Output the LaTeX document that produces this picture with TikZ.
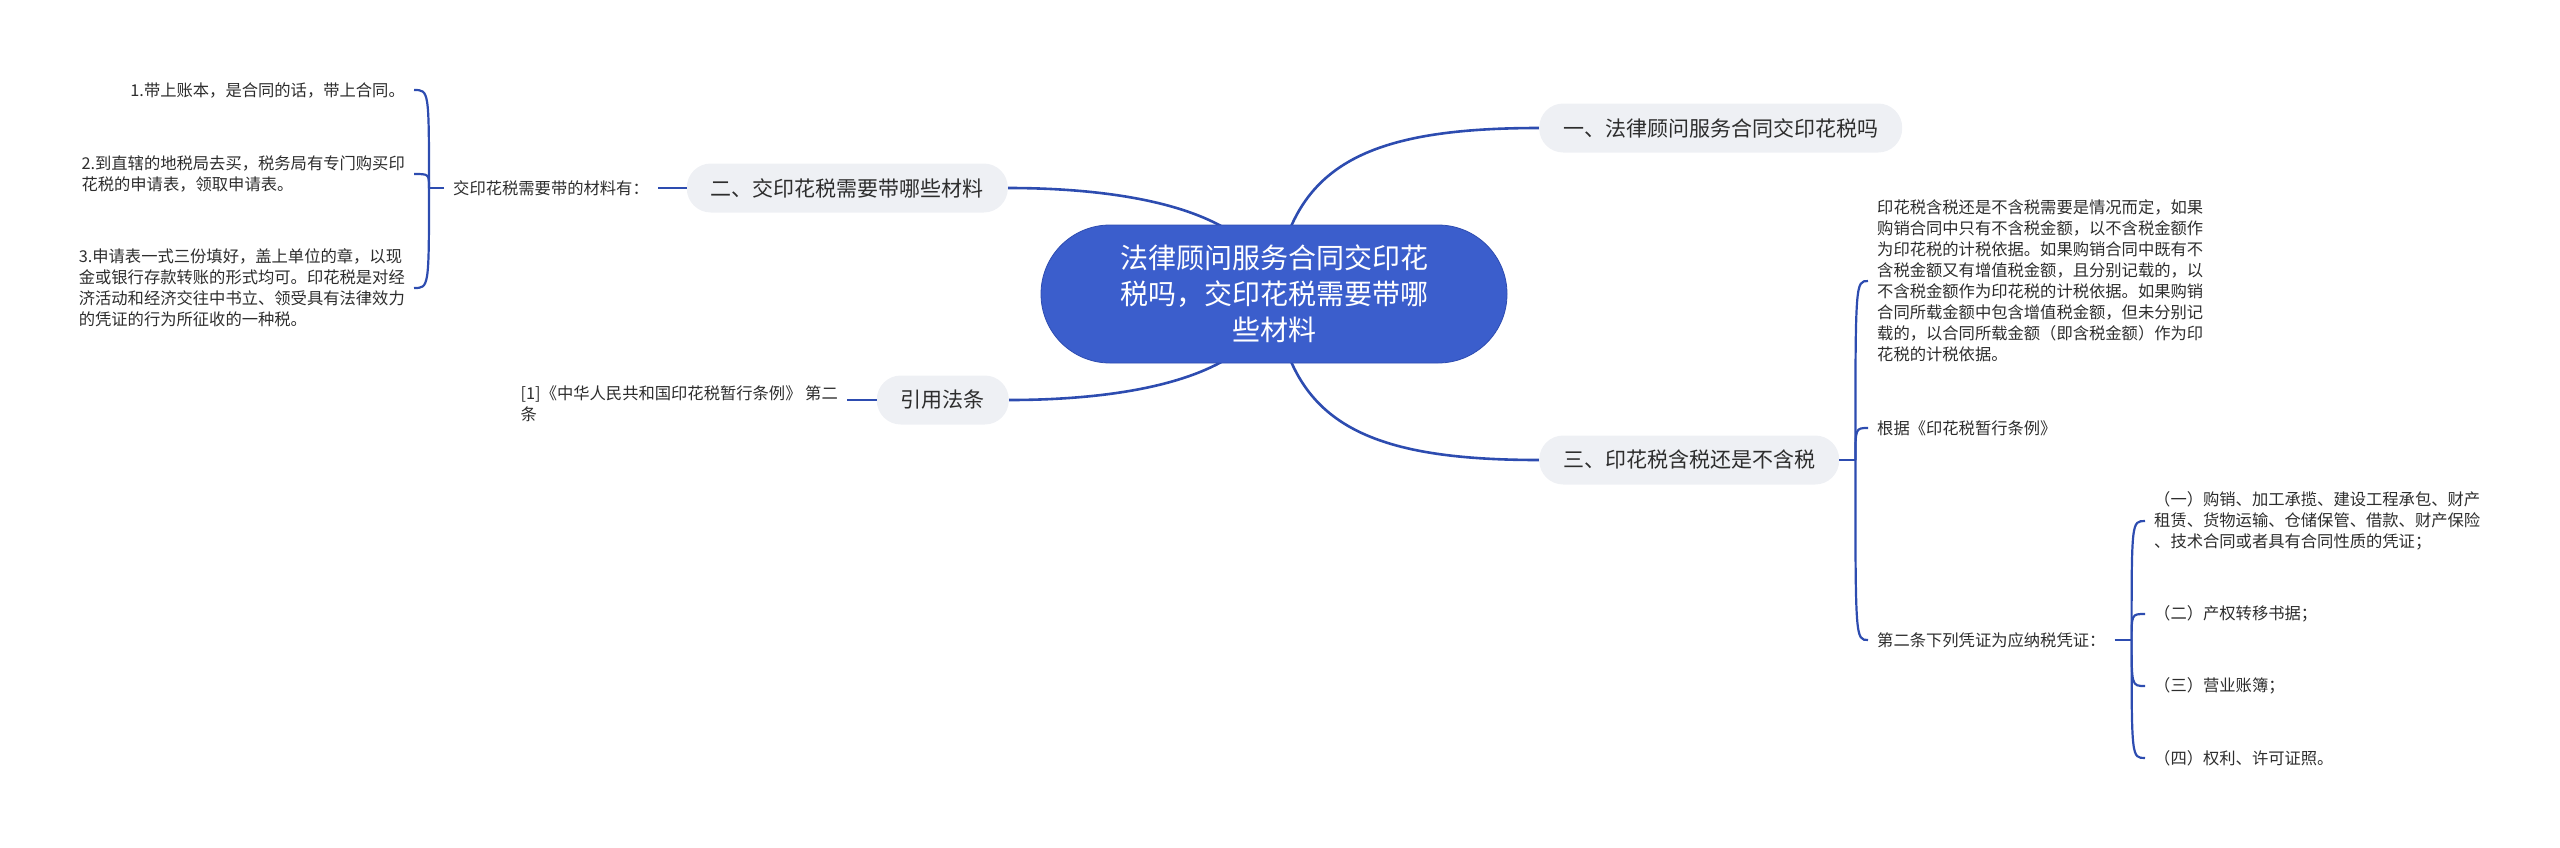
\documentclass[tikz,border=0pt]{standalone}
\usepackage{fontspec}
\newfontfamily\zhfont{Noto Sans CJK SC}
\usetikzlibrary{backgrounds}
\definecolor{rootblue}{RGB}{59,94,204}
\definecolor{linkblue}{RGB}{45,76,176}
\definecolor{topicgray}{RGB}{238,240,244}
\definecolor{txtgray}{RGB}{45,45,45}
\tikzset{
  rootbox/.style={fill=rootblue, draw=linkblue, line width=0.8pt, text=white,
    rounded corners=69pt, minimum width=466pt, minimum height=138pt,
    align=center, font=\zhfont\fontsize{28}{36}\selectfont},
  topicbox/.style={fill=topicgray, text=txtgray, rounded corners=24pt,
    minimum height=49pt, inner xsep=24pt, inner ysep=0pt,
    font=\zhfont\fontsize{21}{26}\selectfont},
  leaf/.style={text=txtgray, inner xsep=9pt, inner ysep=2pt, align=left,
    font=\zhfont\fontsize{16.3}{21}\selectfont},
  link/.style={draw=linkblue, line width=2.6pt},
  brace/.style={draw=linkblue, line width=2.2pt},
}

\begin{document}
\begin{tikzpicture}[x=1pt,y=-1pt]
            \useasboundingbox (0,0) rectangle (2560,847);
            \node[rootbox] (root) at (1274,294) {法律顾问服务合同交印花\\税吗，交印花税需要带哪\\些材料};
            \node[topicbox, anchor=west] (q1) at (1539,128) {一、法律顾问服务合同交印花税吗};
            \node[topicbox, anchor=east] (q2) at (1008,188) {二、交印花税需要带哪些材料};
            \node[topicbox, anchor=east] (quote) at (1009,400) {引用法条};
            \node[topicbox, anchor=west] (q3) at (1539,460) {三、印花税含税还是不含税};

            \node[leaf, anchor=west] (mat) at (444,188) {交印花税需要带的材料有：};
            \node[leaf, anchor=east, align=right] (m1) at (414,90) {1.带上账本，是合同的话，带上合同。};
            \node[leaf, anchor=east] (m2) at (414,174) {2.到直辖的地税局去买，税务局有专门购买印\\花税的申请表，领取申请表。};
            \node[leaf, anchor=east] (m3) at (414,288) {3.申请表一式三份填好，盖上单位的章，以现\\金或银行存款转账的形式均可。印花税是对经\\济活动和经济交往中书立、领受具有法律效力\\的凭证的行为所征收的一种税。};
            \coordinate (jL) at ([xshift=-15pt]mat.west);

            \node[leaf, anchor=east] (art) at (847,404) {[1]《中华人民共和国印花税暂行条例》 第二\\条};

            \node[leaf, anchor=west] (r1) at (1868,281) {印花税含税还是不含税需要是情况而定，如果\\购销合同中只有不含税金额，以不含税金额作\\为印花税的计税依据。如果购销合同中既有不\\含税金额又有增值税金额，且分别记载的，以\\不含税金额作为印花税的计税依据。如果购销\\合同所载金额中包含增值税金额，但未分别记\\载的，以合同所载金额（即含税金额）作为印\\花税的计税依据。};
            \node[leaf, anchor=west] (r2) at (1868,428) {根据《印花税暂行条例》};
            \node[leaf, anchor=west] (r3) at (1868,640) {第二条下列凭证为应纳税凭证：};
            \coordinate (jR) at ([xshift=16pt]q3.east);

            \node[leaf, anchor=west] (s1) at (2145,521) {（一）购销、加工承揽、建设工程承包、财产\\租赁、货物运输、仓储保管、借款、财产保险\\、技术合同或者具有合同性质的凭证；};
            \node[leaf, anchor=west] (s2) at (2145,614) {（二）产权转移书据；};
            \node[leaf, anchor=west] (s3) at (2145,686) {（三）营业账簿；};
            \node[leaf, anchor=west] (s4) at (2145,758) {（四）权利、许可证照。};
            \coordinate (jS) at ([xshift=17pt]r3.east);

            \begin{scope}[on background layer]
              \draw[link] (root.center) .. controls +(15,-125) and +(-180,0) .. (q1.west);
              \draw[link] (root.center) .. controls +(15,125) and +(-180,0) .. (q3.west);
              \draw[link] (q2.east) .. controls +(130,0) and +(-10,-80) .. (root.center);
              \draw[link] (quote.east) .. controls +(130,0) and +(-10,80) .. (root.center);
            \end{scope}

            \draw[brace] (q2.west) -- (mat.east);
            \draw[brace] (mat.west) -- (jL);
            \foreach \n in {m1,m2,m3}{
              \draw[brace] (jL) .. controls (jL |- \n.east) .. (\n.east);
            }
            \draw[brace] (quote.west) -- (quote.west -| art.east);
            \draw[brace] (q3.east) -- (jR);
            \foreach \n in {r1,r2,r3}{
              \draw[brace] (jR) .. controls (jR |- \n.west) .. (\n.west);
            }
            \draw[brace] (r3.east) -- (jS);
            \foreach \n in {s1,s2,s3,s4}{
              \draw[brace] (jS) .. controls (jS |- \n.west) .. (\n.west);
            }
\end{tikzpicture}
\end{document}
